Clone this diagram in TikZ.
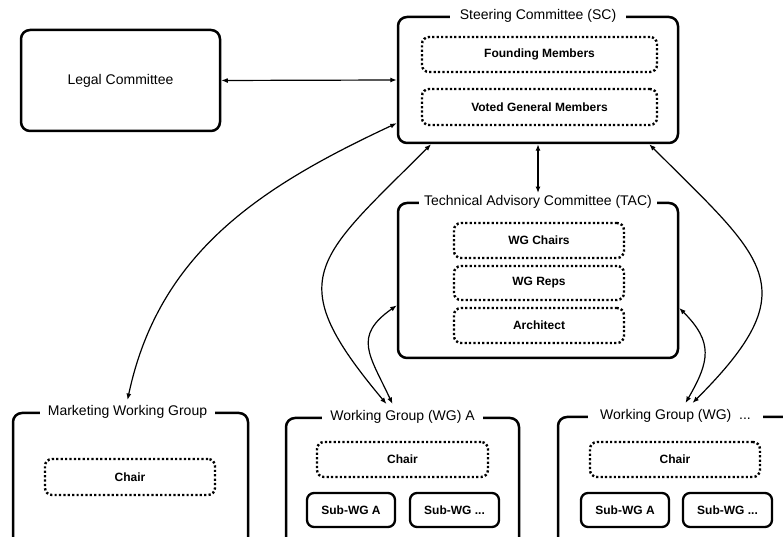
\documentclass[tikz,border=0pt]{standalone}
\usepackage{fontspec}
\setmainfont{Liberation Sans}
\usetikzlibrary{arrows.meta,calc}
\tikzset{
  groupbox/.style={draw, line width=2.5pt, rounded corners=9pt, inner sep=0pt},
  membox/.style={draw, line width=2.4pt, dash pattern=on 2.2pt off 2.2pt, rounded corners=7pt,
    minimum width=170pt, minimum height=35pt, font=\fontsize{12}{14}\selectfont\bfseries},
  subbox/.style={draw, line width=2.3pt, rounded corners=7pt,
    minimum width=88pt, minimum height=34pt, font=\fontsize{12}{14}\selectfont\bfseries},
  grouptitle/.style={fill=white, inner xsep=8pt, inner ysep=2pt, font=\fontsize{14}{16}\selectfont},
  link/.style={<->, >={Latex[length=6.5pt,width=5pt]}, line width=1.2pt}
}

\begin{document}
\begin{tikzpicture}[x=1pt,y=1pt]
  \useasboundingbox (0,0) rectangle (783,537);
  \clip (0,0) rectangle (783,537);

  % Legal committee
  \node[groupbox, minimum width=199pt, minimum height=101pt, font=\fontsize{14}{16}\selectfont]
    (legal) at (120.5,456.5) {Legal Committee};

  % Steering committee
  \node[groupbox, minimum width=280pt, minimum height=126pt] (sc) at (538,457) {};
  \node[grouptitle, inner xsep=10pt] (sctitle) at (sc.north) {Steering Committee (SC)};
  \node[membox, minimum width=235pt] (founding) at (539.5,482.5) {Founding Members};
  \node[membox, minimum width=235pt, minimum height=36pt] (voted) at (539.5,430) {Voted General Members};

  % Technical advisory committee
  \node[groupbox, minimum width=280pt, minimum height=155pt] (tac) at (538,256.5) {};
  \node[grouptitle, inner xsep=5pt] (tactitle) at (tac.north) {Technical Advisory Committee (TAC)};
  \node[membox] (wgchairs) at (539,296.5) {WG Chairs};
  \node[membox, minimum height=34pt] (wgreps) at (539,254) {WG Reps};
  \node[membox] (architect) at (539,211.5) {Architect};

  % Marketing working group
  \node[groupbox, minimum width=235pt, minimum height=147pt] (mkt) at (130.5,50.5) {};
  \node[grouptitle] (mkttitle) at ($(mkt.north)+(-3,0)$) {Marketing Working Group};
  \node[membox, minimum height=36pt] (mktchair) at (130,60) {Chair};

  % Working group A
  \node[groupbox, minimum width=233pt, minimum height=142pt] (wga) at (402.5,48) {};
  \node[grouptitle] (wgatitle) at (wga.north) {Working Group (WG) A};
  \node[membox, minimum width=171pt] (wgachair) at (402.5,77.5) {Chair};
  \node[subbox] (wgasuba) at (351,27) {Sub-WG A};
  \node[subbox, minimum width=89pt] (wgasubx) at (454.5,27) {Sub-WG ...};

  % Working group ...
  \node[groupbox, minimum width=235pt, minimum height=143pt] (wgx) at (675.5,48.5) {};
  \node[grouptitle, inner xsep=12pt] (wgxtitle) at (wgx.north) {Working Group (WG) \ ...};
  \node[membox] (wgxchair) at (675,77.5) {Chair};
  \node[subbox] (wgxsuba) at (625,27) {Sub-WG A};
  \node[subbox, minimum width=89pt] (wgxsubx) at (727.5,27) {Sub-WG ...};

  % Links
  \draw[link] (legal.east) -- (sc.west);
  \draw[link] (sc.south) -- (tactitle.north);
  \draw[link] (sc.197) to[out=205, in=78] ($(mkttitle.north)+(0,3)$);
  \draw[link] (sc.211) to[out=225, in=130, looseness=1.6] ($(wgatitle.north)+(-16,4)$);
  \draw[link] (tac.190) to[out=215, in=115, looseness=1.4] ($(wgatitle.north)+(-10,4)$);
  \draw[link] (sc.330) to[out=-45, in=45, looseness=1.6] ($(wgxtitle.north)+(17,4)$);
  \draw[link] (tac.349) to[out=-45, in=60, looseness=1.3] ($(wgxtitle.north)+(10,4)$);
\end{tikzpicture}
\end{document}
